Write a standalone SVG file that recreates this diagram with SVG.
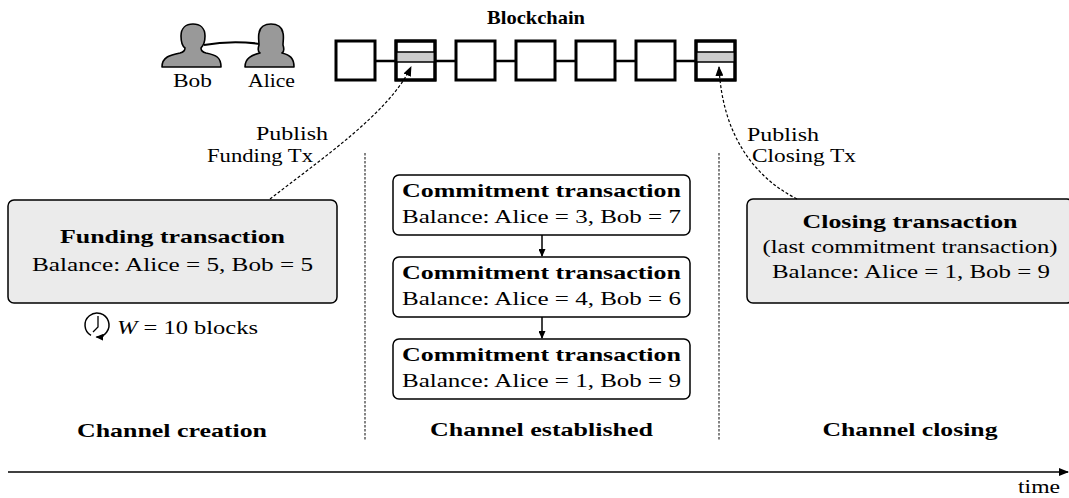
<svg xmlns="http://www.w3.org/2000/svg" width="1069" height="498" viewBox="0 0 1069 498">
<style>
text{font-family:"Liberation Serif","DejaVu Serif",serif;font-size:19.5px;fill:#000}
.b{font-weight:bold}
.c{text-anchor:middle}
.e{text-anchor:end}
.blk{fill:#fff;stroke:#000;stroke-width:3}
.band{fill:#ccc;stroke:#000;stroke-width:1.5}
.link{stroke:#000;stroke-width:2.5;fill:none}
.gbox{fill:#ebebeb;stroke:#000;stroke-width:1.5}
.wbox{fill:#fff;stroke:#000;stroke-width:1.5}
.dash{fill:none;stroke:#000;stroke-width:1.2;stroke-dasharray:3 2}
.sep{fill:none;stroke:#333;stroke-width:1.2;stroke-dasharray:2.5 1.5}
.ln{fill:none;stroke:#000;stroke-width:1.5}
.person{fill:#999;stroke:#000;stroke-width:1.6;stroke-linejoin:round}
</style>
<defs>
<marker id="ah" markerUnits="userSpaceOnUse" markerWidth="10" markerHeight="8" refX="9" refY="4" orient="auto">
<path d="M0,0 L10,4 L0,8 Z" fill="#000"/>
</marker>
<marker id="ahs" markerUnits="userSpaceOnUse" markerWidth="8" markerHeight="7" refX="7" refY="3.5" orient="auto">
<path d="M0,0 L8,3.5 L0,7 Z" fill="#000"/>
</marker>
</defs>

<g id="people">
<path class="link" d="M204 45 Q232 40 261 44" style="stroke-width:2"/>
<g id="bob">
<path class="person" d="M162 67 C162 57 170 55 180 53 C184 52 185 50 185 48 C181 45 181 40 181 36 C181 28 186 24 193 24 C200 24 205 28 205 36 C205 40 204 45 201 48 C201 50 202 52 206 53 C216 55 221 57 221 67 Z"/>
<text x="192.5" y="87" class="c" textLength="39" lengthAdjust="spacingAndGlyphs">Bob</text>
</g>
<g id="alice">
<path class="person" d="M245 67 C245 58 252 55 260 53 C257 51 258 48 259 45 C259 41 258 37 259 33 C260 27 265 24 271 24 C277 24 282 27 283 33 C284 37 283 41 283 45 C284 48 285 51 282 53 C290 55 294 58 294 67 Z"/>
<text x="271.5" y="87" class="c" textLength="47" lengthAdjust="spacingAndGlyphs">Alice</text>
</g>
</g>

<g id="blockchain">
<text x="536" y="24" class="b c" textLength="98" lengthAdjust="spacingAndGlyphs">Blockchain</text>
<path class="link" d="M375 61 H396 M435 61 H456 M495 61 H516 M555 61 H576 M615 61 H636 M675 61 H696"/>
<rect class="blk" x="336" y="41" width="39" height="39"/>
<rect class="blk" x="396" y="41" width="39" height="39"/>
<rect class="band" x="396" y="52" width="39" height="10"/>
<rect class="blk" x="456" y="41" width="39" height="39"/>
<rect class="blk" x="516" y="41" width="39" height="39"/>
<rect class="blk" x="576" y="41" width="39" height="39"/>
<rect class="blk" x="636" y="41" width="39" height="39"/>
<rect class="blk" x="696" y="41" width="39" height="39"/>
<rect class="band" x="696" y="52" width="39" height="10"/>
<rect x="396" y="41" width="39" height="39" fill="none" stroke="#000" stroke-width="3"/>
<rect x="696" y="41" width="39" height="39" fill="none" stroke="#000" stroke-width="3"/>
</g>

<g id="funding">
<rect class="gbox" x="8" y="200" width="329" height="103" rx="6"/>
<text x="172.5" y="243" class="b c" textLength="225" lengthAdjust="spacingAndGlyphs">Funding transaction</text>
<text x="172.5" y="271" class="c" textLength="281" lengthAdjust="spacingAndGlyphs">Balance: Alice = 5, Bob = 5</text>
</g>

<g id="timelock">
<path class="ln" d="M91 335.4 A12 12 0 1 1 96.5 337" marker-end="url(#ahs)"/>
<path class="ln" d="M98 316 V327 L93 332" style="stroke-width:1.3"/>
<text x="117" y="334" textLength="141" lengthAdjust="spacingAndGlyphs"><tspan font-style="italic">W</tspan> = 10 blocks</text>
</g>

<g id="commit1">
<rect class="wbox" x="393" y="175" width="297" height="60" rx="6"/>
<text x="541.5" y="197" class="b c" textLength="279" lengthAdjust="spacingAndGlyphs">Commitment transaction</text>
<text x="541.5" y="223" class="c" textLength="279" lengthAdjust="spacingAndGlyphs">Balance: Alice = 3, Bob = 7</text>
</g>
<g id="commit2">
<rect class="wbox" x="393" y="257" width="297" height="60" rx="6"/>
<text x="541.5" y="279" class="b c" textLength="279" lengthAdjust="spacingAndGlyphs">Commitment transaction</text>
<text x="541.5" y="305" class="c" textLength="279" lengthAdjust="spacingAndGlyphs">Balance: Alice = 4, Bob = 6</text>
</g>
<g id="commit3">
<rect class="wbox" x="393" y="339" width="297" height="60" rx="6"/>
<text x="541.5" y="361" class="b c" textLength="279" lengthAdjust="spacingAndGlyphs">Commitment transaction</text>
<text x="541.5" y="387" class="c" textLength="279" lengthAdjust="spacingAndGlyphs">Balance: Alice = 1, Bob = 9</text>
</g>

<g id="closing">
<rect class="gbox" x="747" y="199" width="326" height="104" rx="6"/>
<text x="910" y="228" class="b c" textLength="215" lengthAdjust="spacingAndGlyphs">Closing transaction</text>
<text x="910" y="253" class="c" textLength="295" lengthAdjust="spacingAndGlyphs">(last commitment transaction)</text>
<text x="911" y="278" class="c" textLength="278" lengthAdjust="spacingAndGlyphs">Balance: Alice = 1, Bob = 9</text>
</g>

<g id="labels">
<text x="328" y="140" class="e" textLength="72" lengthAdjust="spacingAndGlyphs">Publish</text>
<text x="313" y="162" class="e" textLength="106" lengthAdjust="spacingAndGlyphs">Funding Tx</text>
<text x="747" y="141" textLength="72" lengthAdjust="spacingAndGlyphs">Publish</text>
<text x="752" y="162" textLength="104" lengthAdjust="spacingAndGlyphs">Closing Tx</text>
<text x="172" y="437" class="b c" textLength="190" lengthAdjust="spacingAndGlyphs">Channel creation</text>
<text x="541.5" y="436" class="b c" textLength="223" lengthAdjust="spacingAndGlyphs">Channel established</text>
<text x="910" y="436" class="b c" textLength="175" lengthAdjust="spacingAndGlyphs">Channel closing</text>
<text x="1018" y="493" textLength="42" lengthAdjust="spacingAndGlyphs">time</text>
</g>

<g id="connectors">
<path class="sep" d="M365 153 V440"/>
<path class="sep" d="M719 153 V440"/>
<path class="dash" d="M270 199 C320 160 390 112 411 67" marker-end="url(#ah)"/>
<path class="dash" d="M797 199 C750 175 722 130 719 67" marker-end="url(#ah)"/>
<path class="ln" d="M542 235 V256" marker-end="url(#ahs)"/>
<path class="ln" d="M542 317 V338" marker-end="url(#ahs)"/>
<path class="ln" d="M8 472 H1068" marker-end="url(#ah)"/>
</g>
</svg>
